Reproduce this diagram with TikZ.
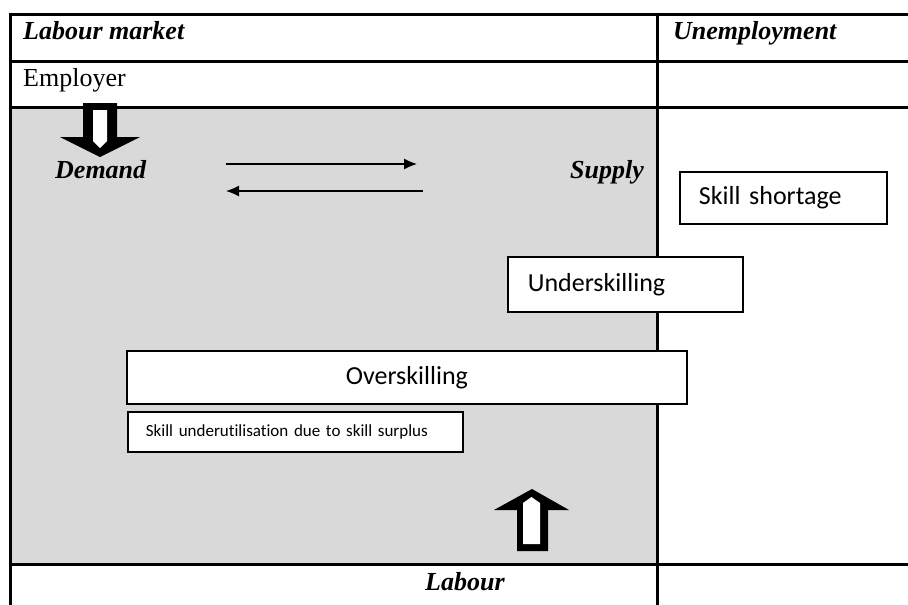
\documentclass[tikz,border=0pt]{standalone}
\usepackage{fontspec}
\setmainfont{Liberation Serif}
\newfontfamily\boxfont[Ligatures=NoCommon]{Carlito}
\usetikzlibrary{arrows.meta}
\definecolor{fieldgray}{HTML}{D9D9D9}
\begin{document}
\begin{tikzpicture}[x=1pt,y=-1pt,>={Latex[length=13pt,width=11pt]},
  rule/.style={line width=3pt},
  head/.style={inner sep=0pt,anchor=base west,font=\fontsize{26}{30}\selectfont\bfseries\itshape},
  skillbox/.style={draw,line width=1.8pt,fill=white,anchor=north west,align=left,
    font=\boxfont\fontsize{26}{30}\selectfont}]
\useasboundingbox (0,0) rectangle (908,605);
% grey field and table rules
\fill[fieldgray] (10,107) rectangle (657,564);
\foreach \y in {14,61,107,564}
{
    \draw[rule] (10,\y)--(908,\y);
}
\draw[rule] (10,12.5)--(10,605);
\draw[rule] (657,12.5)--(657,605);
% headings
\node[head] (market) at (23,39) {Labour market};
\node[head] (unemp) at (673,39) {Unemployment};
\node[head,font=\fontsize{26}{30}\selectfont] (employer) at (23,86) {Employer};
\node[head] (demand) at (55,178) {Demand};
\node[head,anchor=base east] (supply) at (644,178) {Supply};
\node[head] (labour) at (425,590) {Labour};
% block arrows: black outer, white inner
\fill (83,103)--(117,103)--(117,137)--(140,137)--(100,157)--(60,137)--(83,137)--cycle;
\fill[white] (93,110)--(107,110)--(107,141)--(100,148)--(93,141)--cycle;
\fill (517,551)--(548,551)--(548,510)--(569,510)--(532,489)--(494,510)--(517,510)--cycle;
\fill[white] (523,544)--(540,544)--(540,503)--(531.5,497)--(523,503)--cycle;
% thin arrows
\coordinate (r1) at (226,164);
\coordinate (r2) at (417,164);
\coordinate (l1) at (423,191);
\coordinate (l2) at (226,191);
\draw[->,line width=1.2pt] (r1)--(r2);
\draw[->,line width=1.2pt] (l1)--(l2);
% boxes
\node[skillbox,minimum width=207pt,minimum height=52pt,inner xsep=19pt,text width=169pt] (shortage) at (679,171) {Skill shortage};
\node[skillbox,minimum width=235pt,minimum height=55pt,inner xsep=20pt,text width=195pt] (under) at (507,256) {Underskilling};
\node[skillbox,minimum width=560pt,minimum height=53pt,inner xsep=10pt,text width=540pt,align=center] (over) at (126,350) {Overskilling};
\node[skillbox,minimum width=335pt,minimum height=40pt,inner xsep=18pt,text width=299pt,
  font=\boxfont\fontsize{17}{20}\selectfont] (surplus) at (127,411) {Skill underutilisation due to skill surplus};
\end{tikzpicture}
\end{document}
